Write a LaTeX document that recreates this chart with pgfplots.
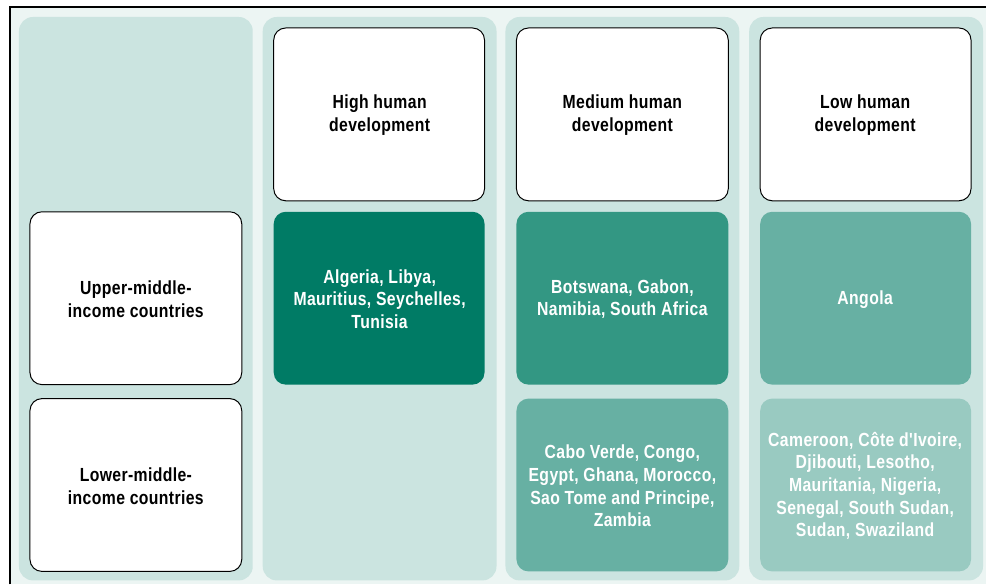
\documentclass[border=0pt]{standalone}
\usepackage{fontspec}
\newfontfamily\cf{Liberation Sans}[FakeStretch=0.83, LetterSpace=2]
\usepackage{pgfplots}
\pgfplotsset{compat=1.18}
\definecolor{bgc}{RGB}{236,245,243}
\definecolor{band}{RGB}{203,228,224}
\definecolor{cA}{RGB}{0,123,101}
\definecolor{cB}{RGB}{51,151,131}
\definecolor{cC}{RGB}{103,176,163}
\definecolor{cD}{RGB}{153,202,193}
\begin{document}
\begin{tikzpicture}
\begin{axis}[hide axis, scale only axis, width=987pt, height=585pt,
  xmin=0, xmax=987, ymin=0, ymax=585, y dir=reverse, clip=false]
% background and frame
\path (axis cs:0,0) rectangle (axis cs:987,585);
\fill[bgc] (axis cs:10,7) rectangle (axis cs:987,585);
\draw[black, line width=2pt] (axis cs:10,585) -- (axis cs:10,7) -- (axis cs:987,7);
% column bands
\fill[band, rounded corners=14pt] (axis cs:19,17) rectangle (axis cs:253,581);
\fill[band, rounded corners=14pt] (axis cs:263,17) rectangle (axis cs:497,581);
\fill[band, rounded corners=14pt] (axis cs:506,17) rectangle (axis cs:740,581);
\fill[band, rounded corners=14pt] (axis cs:750,17) rectangle (axis cs:984,581);
% header boxes
\filldraw[fill=white, draw=black, line width=1pt, rounded corners=12pt] (axis cs:274,28) rectangle (axis cs:485,201);
\filldraw[fill=white, draw=black, line width=1pt, rounded corners=12pt] (axis cs:517,28) rectangle (axis cs:729,201);
\filldraw[fill=white, draw=black, line width=1pt, rounded corners=12pt] (axis cs:761,28) rectangle (axis cs:972,201);
% row label boxes
\filldraw[fill=white, draw=black, line width=1pt, rounded corners=12pt] (axis cs:30,212) rectangle (axis cs:242,385);
\filldraw[fill=white, draw=black, line width=1pt, rounded corners=12pt] (axis cs:30,399) rectangle (axis cs:242,572);
% coloured cells
\fill[cA, rounded corners=12pt] (axis cs:274,212) rectangle (axis cs:485,385);
\fill[cB, rounded corners=12pt] (axis cs:517,212) rectangle (axis cs:729,385);
\fill[cC, rounded corners=12pt] (axis cs:761,212) rectangle (axis cs:972,385);
\fill[cC, rounded corners=12pt] (axis cs:517,399) rectangle (axis cs:729,572);
\fill[cD, rounded corners=12pt] (axis cs:761,399) rectangle (axis cs:972,572);
% texts
\tikzset{lbl/.style={align=center, inner sep=0pt, font=\cf\bfseries\fontsize{19}{22.7}\selectfont}}
\node[lbl, black] at (axis cs:380,115.5) {High human\\development};
\node[lbl, black] at (axis cs:623,115.5) {Medium human\\development};
\node[lbl, black] at (axis cs:866,115.5) {Low human\\development};
\node[lbl, black] at (axis cs:136,299.5) {Upper-middle-\\income countries};
\node[lbl, black] at (axis cs:136,486.5) {Lower-middle-\\income countries};
\node[lbl, white] at (axis cs:380,299.5) {Algeria, Libya,\\Mauritius, Seychelles,\\Tunisia};
\node[lbl, white] at (axis cs:623,299.5) {Botswana, Gabon,\\Namibia, South Africa};
\node[lbl, white] at (axis cs:866,299.5) {Angola};
\node[lbl, white] at (axis cs:623,486.5) {Cabo Verde, Congo,\\Egypt, Ghana, Morocco,\\Sao Tome and Principe,\\Zambia};
\node[lbl, white] at (axis cs:866,486.5) {Cameroon, Côte d'Ivoire,\\Djibouti, Lesotho,\\Mauritania, Nigeria,\\Senegal, South Sudan,\\Sudan, Swaziland};
\end{axis}
\end{tikzpicture}
\end{document}
